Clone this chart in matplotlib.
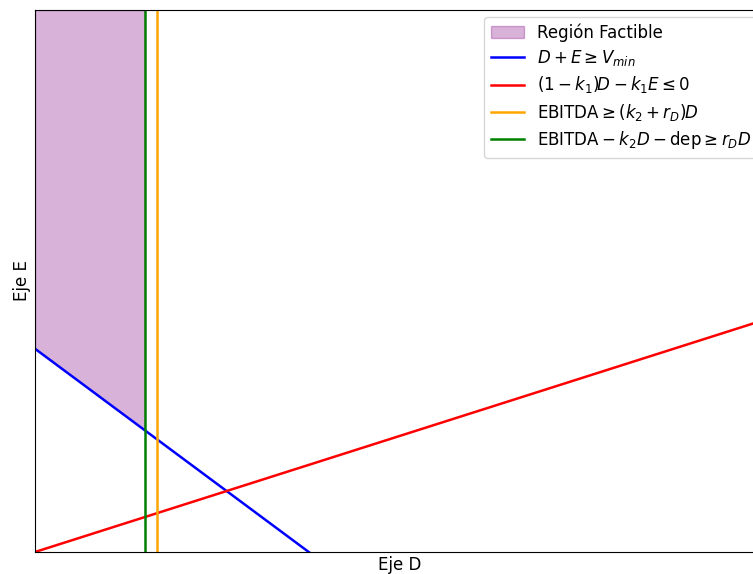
import numpy as np
import matplotlib
matplotlib.use("Agg")
import matplotlib.pyplot as plt

# Problem parameters
V_min = 150.0          # minimum firm value
k1 = 0.7               # leverage ratio bound
D_ebitda = 67.0        # D limit from EBITDA >= (k2 + rD) D
D_dep = 60.0           # D limit from EBITDA - k2 D - dep >= rD D
D_max = 400.0
E_max = 400.0

D = np.linspace(0, D_max, 400)
E_blue = V_min - D
E_red = (1 - k1) / k1 * D

fig = plt.figure(figsize=(7.53, 5.74), dpi=100)
ax = fig.add_axes([35 / 753, 22 / 574, 730 / 753, 542 / 574])

# Feasible region: above D + E = Vmin, left of the tighter D limit
D_fill = np.linspace(0, min(D_dep, D_ebitda), 200)
ax.fill_between(D_fill, V_min - D_fill, E_max, color="purple", alpha=0.3,
                label="Región Factible")

ax.plot(D, E_blue, color="blue", lw=1.8, label=r"$D + E \geq V_{min}$")
ax.plot(D, E_red, color="red", lw=1.8, label=r"$(1 - k_1)D - k_1E \leq 0$")
ax.axvline(D_ebitda, color="orange", lw=1.8,
           label=r"$\mathrm{EBITDA} \geq (k_2 + r_D)D$")
ax.axvline(D_dep, color="green", lw=1.8,
           label=r"$\mathrm{EBITDA} - k_2D - \mathrm{dep} \geq r_DD$")

ax.set_xlim(0, D_max)
ax.set_ylim(0, E_max)
ax.set_xticks([])
ax.set_yticks([])
ax.set_xlabel("Eje D", fontsize=12, labelpad=3)
ax.set_ylabel("Eje E", fontsize=12, labelpad=3)
ax.legend(loc="upper right", fontsize=12, borderaxespad=0.4,
          labelspacing=0.38)

fig.savefig("out.png", dpi=100)
